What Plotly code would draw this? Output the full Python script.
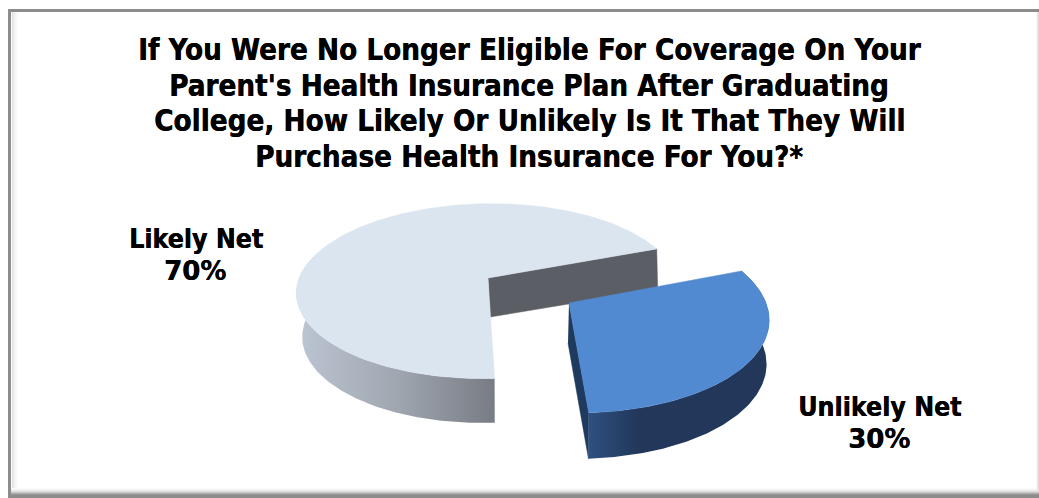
import numpy as np
import plotly.graph_objects as go

# Data
categories = ["Likely Net", "Unlikely Net"]
values = [70, 30]
title_lines = [
    "If You Were No Longer Eligible For Coverage On Your",
    "Parent's Health Insurance Plan After Graduating",
    "College, How Likely Or Unlikely Is It That They Will",
    "Purchase Health Insurance For You?*",
]

W, H = 1039, 498
FONT = "DejaVu Sans Condensed, DejaVu Sans, sans-serif"
FONT_PCT = "DejaVu Sans, sans-serif"
SHADOW = "0.4px 0 0 #000000"
START = 69.0  # clockwise angle from the far side where the Unlikely slice begins
span_unlikely = 360.0 * values[1] / sum(values)
span_likely = 360.0 * values[0] / sum(values)


def ring(theta_deg, p):
    t = np.radians(np.asarray(theta_deg, dtype=float))
    d = 1 + p["k"] * np.cos(t)
    dx_d = 1 + p.get("kx", p["k"]) * np.cos(t)
    dx = p["A"] * np.sin(t) / dx_d
    dy = -p["B"] * np.cos(t) / d
    return p["cx"] + p.get("ox", 0) + dx + p["s"] * dy, p["cy"] + dy


LIGHT_TOP = dict(cx=488, cy=278, A=188.8, B=85.5, k=0.15, s=-0.05)
LIGHT_BOT = dict(cx=490, cy=317, ox=-4, A=179, B=83.3, k=0.214, s=-0.03)
BLUE_TOP = dict(cx=569, cy=303, A=197, B=94, k=0.145, s=0.07)
BLUE_BOT = dict(cx=568, cy=343, A=194, B=95, k=0.18, s=0.07)

fig = go.Figure()


def poly(xs, ys, color=None, grad=None):
    kw = dict(x=list(xs), y=list(ys), mode="lines", fill="toself", hoverinfo="skip",
              showlegend=False)
    if grad:
        fig.add_trace(go.Scatter(**kw, line=dict(width=0, color=grad[-1][1]),
                                 fillgradient=dict(type="horizontal", colorscale=grad)))
    else:
        fig.add_trace(go.Scatter(**kw, line=dict(width=0.5, color=color), fillcolor=color))


def wedge(top, theta):
    x, y = ring(theta, top)
    return np.r_[top["cx"], x, top["cx"]], np.r_[top["cy"], y, top["cy"]]


def band(top, bot, theta):
    x1, y1 = ring(theta, top)
    x2, y2 = ring(theta[::-1], bot)
    return np.r_[x1, x2, x1[0]], np.r_[y1, y2, y1[0]]


# Likely slice
a0 = START + span_unlikely
a1 = a0 + span_likely
x1, y1 = ring([a1], LIGHT_TOP)
x2, y2 = ring([a1], {**LIGHT_BOT, "A": 183, "kx": 0.0})
poly([LIGHT_TOP["cx"], x1[0], x2[0], LIGHT_BOT["cx"]],
     [LIGHT_TOP["cy"], y1[0], y2[0], LIGHT_BOT["cy"]], "#5B5F65")
poly(*band(LIGHT_TOP, LIGHT_BOT, np.linspace(a0, 285, 120)),
     grad=[[0, "#BCC5D2"], [0.5, "#A0A7B1"], [1, "#787C84"]])
poly(*wedge(LIGHT_TOP, np.linspace(a0, a1, 240)), "#DBE5F0")

# Unlikely slice
x1, y1 = ring([a0], BLUE_TOP)
x2, y2 = ring([a0], BLUE_BOT)
poly([BLUE_TOP["cx"], x1[0], x2[0], BLUE_BOT["cx"]],
     [BLUE_TOP["cy"], y1[0], y2[0], BLUE_BOT["cy"]], "#1E3A5F")
poly(*band(BLUE_TOP, BLUE_BOT, np.linspace(START, a0, 120)),
     grad=[[0, "#2F5080"], [0.28, "#22375A"], [1, "#22375A"]])
poly(*wedge(BLUE_TOP, np.linspace(START, a0, 120)), "#528AD2")

# Frame
shapes = []
def rect(x0, y0, x1, y1, c):
    shapes.append(dict(type="rect", xref="x", yref="y", x0=x0, y0=y0, x1=x1, y1=y1,
                       fillcolor=c, line=dict(width=0), layer="below"))
rect(8, 9, W, H, "#8C8C8C")
rect(11, 12, W, H - 8, "#FFFFFF")
for i, c in enumerate(["#E2E2E2", "#EAEAEA", "#F0F0F0", "#F5F5F5", "#F9F9F9", "#FCFCFC"]):
    rect(12 + i, 12, 13 + i, H - 8, c)
for i, c in enumerate(["#FBFBFB", "#F4F4F4", "#EAEAEA", "#DDDDDD", "#C8C8C8", "#ADADAD", "#979797"]):
    rect(11, H - 10 + i, W, H - 9 + i, c)
for i, c in enumerate(["#F7F7F7", "#EAEAEA", "#D8D8D8"]):
    rect(W - 3 + i, 12, W - 2 + i, H - 8, c)

annotations = []
def text(x, y, s, size, family=FONT):
    annotations.append(dict(x=x, y=y, xref="x", yref="y", text=s, showarrow=False,
                            align="center", xanchor="center", yanchor="middle",
                            font=dict(family=family, size=size, color="#000000",
                                      weight="bold", shadow=SHADOW)))

for line, y in zip(title_lines, [50, 85.5, 121, 156.5]):
    text(529, y, line, 29.3)
for label, v, cx, cy in zip(categories, values, [196, 880], [238, 406]):
    text(cx, cy, label, 26.5)
    text(cx - 1, cy + 33, f"{v}%", 26, FONT_PCT)

fig.update_layout(
    width=W, height=H, margin=dict(l=0, r=0, t=0, b=0), autosize=False,
    paper_bgcolor="#FFFFFF", plot_bgcolor="rgba(0,0,0,0)", showlegend=False,
    xaxis=dict(range=[0, W], visible=False, fixedrange=True),
    yaxis=dict(range=[H, 0], visible=False, fixedrange=True),
    shapes=shapes, annotations=annotations,
)
fig.write_html("out.html", config={"displayModeBar": False},
               post_script="document.body.style.margin='0';document.body.style.overflow='hidden';")
